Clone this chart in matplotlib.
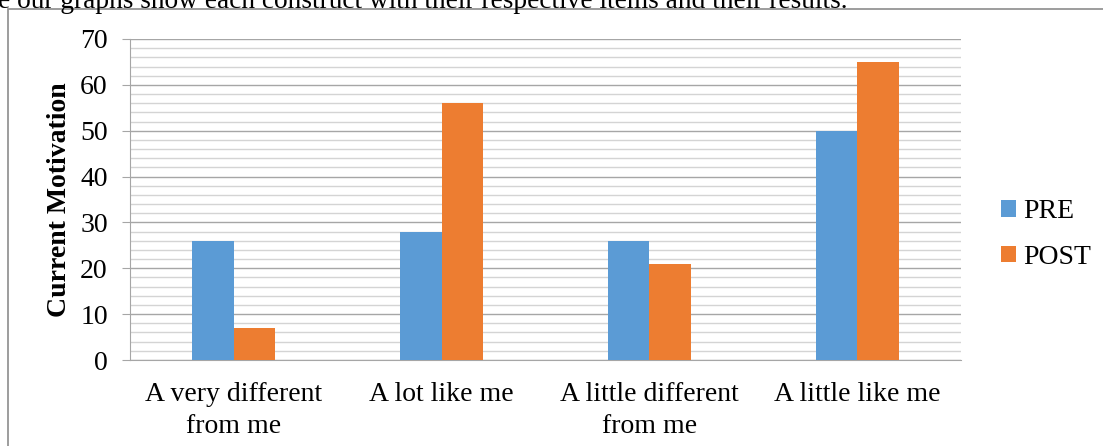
import numpy as np
import matplotlib.pyplot as plt
from matplotlib.patches import Rectangle
from matplotlib.ticker import MultipleLocator

categories = ['A very different\nfrom me', 'A lot like me', 'A little different\nfrom me', 'A little like me']
pre = [26, 28, 26, 50]
post = [7, 56, 21, 65]

plt.rcParams['font.family'] = 'Liberation Serif'

fig = plt.figure(figsize=(11.03, 4.46), dpi=100)
ax = fig.add_axes([130 / 1103, 86 / 446, 831 / 1103, 321 / 446])

x = np.arange(len(categories))
w = 0.2
ax.bar(x - w / 2, pre, w, color='#5b9bd5', label='PRE', zorder=3)
ax.bar(x + w / 2, post, w, color='#ed7d31', label='POST', zorder=3)

ax.set_xlim(-0.5, 3.5)
ax.set_ylim(0, 70)
ax.yaxis.set_major_locator(MultipleLocator(10))
ax.yaxis.set_minor_locator(MultipleLocator(2))
ax.grid(axis='y', which='minor', color='#d4d4d4', linewidth=1, zorder=0)
ax.grid(axis='y', which='major', color='#a6a6a6', linewidth=1, zorder=1)

ax.set_xticks(x)
ax.set_xticklabels(categories, fontsize=20, linespacing=1.35)
ax.tick_params(axis='x', length=0, pad=16)
ax.tick_params(axis='y', which='major', length=6, color='#a6a6a6', labelsize=20, pad=10)
ax.tick_params(axis='y', which='minor', length=0)

for s in ['top', 'right']:
    ax.spines[s].set_visible(False)
ax.spines['left'].set_color('#a6a6a6')
ax.spines['bottom'].set_color('#a6a6a6')

ax.set_ylabel('Current Motivation', fontsize=20, fontweight='bold', labelpad=6)

ax.legend(loc='center left', bbox_to_anchor=(1.018, 0.391), frameon=False, fontsize=20,
          handlelength=0.55, handleheight=0.55, handletextpad=0.25, labelspacing=0.75)

# outer chart frame and cut-off document text above it
fig.patches.append(Rectangle((8 / 1103, -0.05), 1.1, 1.05 - 9 / 446, transform=fig.transFigure,
                             fill=False, edgecolor='#8c8c8c', linewidth=1.2))
fig.text(-2 / 1103, 1 - 8 / 446, 'e our graphs show each construct with their respective items and their results.',
         fontsize=19.7, va='baseline', ha='left')

plt.savefig('out.png')
